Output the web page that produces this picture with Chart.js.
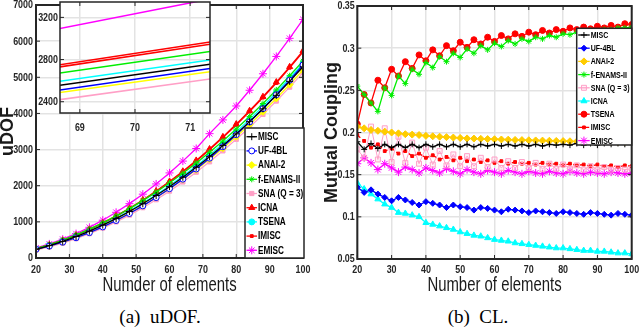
<!DOCTYPE html>
<html>
<head>
<meta charset="utf-8">
<script src="https://cdn.jsdelivr.net/npm/chart.js@4"></script>
<style>
body { margin: 0; background: #fff; }
#wrap { position: relative; width: 640px; height: 328px; overflow: hidden; }
canvas { position: absolute; }
.cap { position: absolute; width: 200px; text-align: center; font-family: 'Liberation Serif', serif; font-size: 19px; color: #000; }
</style>
</head>
<body>
<div id="wrap">
  <canvas id="chartA" width="320" height="300" style="left:0;top:0"></canvas>
  <canvas id="chartB" width="320" height="300" style="left:320px;top:0"></canvas>
  <canvas id="inset" width="215" height="140" style="left:0;top:0"></canvas>
  <div class="cap" style="left:60px;top:306px">(a)&nbsp; uDOF.</div>
  <div class="cap" style="left:378px;top:306px">(b)&nbsp; CL.</div>
</div>
<script>
// number of elements (x values)
const nA = [20, 24, 28, 32, 36, 40, 44, 48, 52, 56, 60, 64, 68, 72, 76, 80, 84, 88, 92, 96, 100]
const nB = [20, 22, 24, 26, 28, 30, 32, 34, 36, 38, 40, 42, 44, 46, 48, 50, 52, 54, 56, 58,
            60, 62, 64, 66, 68, 70, 72, 74, 76, 78, 80, 82, 84, 86, 88, 90, 92, 94, 96, 98, 100]

const seriesNames = ['MISC', 'UF-4BL', 'ANAI-2', 'f-ENAMS-II', 'SNA (Q = 3)', 'ICNA', 'TSENA', 'IMISC', 'EMISC']

// tick labels
const nTicks = [20, 30, 40, 50, 60, 70, 80, 90, 100]
const udofTicks = [0, 1000, 2000, 3000, 4000, 5000, 6000, 7000]
const clTicks = [0.05, 0.1, 0.15, 0.2, 0.25, 0.3, 0.35]
const insetXTicks = [69, 70, 71]
const insetYTicks = [2400, 2800, 3200]

// (a) uDOF
const udofMISC   = [240, 342, 460, 594, 743, 909, 1090, 1287, 1500, 1729, 1973, 2234, 2510, 2802, 3110, 3434, 3773, 4129, 4500, 4887, 5290]
const udofUF4BL  = [240, 329, 436, 560, 702, 861, 1038, 1232, 1443, 1672, 1918, 2182, 2463, 2762, 3078, 3411, 3762, 4130, 4516, 4919, 5340]
const udofANAI2  = [230, 326, 438, 566, 711, 871, 1047, 1240, 1448, 1673, 1913, 2170, 2442, 2731, 3035, 3356, 3693, 4046, 4414, 4799, 5200]
const udofENAMS  = [260, 372, 498, 641, 799, 973, 1162, 1367, 1587, 1823, 2075, 2342, 2625, 2924, 3238, 3567, 3913, 4274, 4650, 5042, 5450]
const udofSNA    = [220, 309, 414, 536, 674, 829, 1000, 1188, 1392, 1613, 1850, 2104, 2374, 2661, 2964, 3284, 3620, 3973, 4342, 4728, 5130]
const udofICNA   = [260, 367, 491, 633, 793, 970, 1164, 1376, 1606, 1853, 2118, 2400, 2700, 3017, 3352, 3705, 4075, 4462, 4867, 5290, 5730]
const udofTSENA  = [250, 352, 469, 604, 754, 921, 1104, 1304, 1520, 1752, 2000, 2265, 2547, 2844, 3158, 3488, 3835, 4198, 4577, 4972, 5384]
const udofIMISC  = [255, 362, 484, 625, 784, 960, 1152, 1363, 1592, 1838, 2101, 2382, 2680, 2996, 3330, 3682, 4051, 4437, 4841, 5263, 5702]
const udofEMISC  = [280, 390, 521, 674, 849, 1046, 1264, 1504, 1766, 2049, 2354, 2681, 3030, 3440, 3820, 4206, 4641, 5098, 5577, 6078, 6600]

// (b) mutual coupling
const clMISC  = [.189, .180, .187, .181, .186, .182, .186, .182, .186, .182,
                 .186, .183, .186, .183, .186, .183, .186, .183, .186, .184,
                 .186, .184, .186, .184, .186, .184, .186, .184, .186, .185,
                 .186, .185, .187, .185, .187, .185, .187, .186, .187, .186, .187]
const clUF4BL = [.135, .129, .132, .127, .123, .119, .123, .120, .117, .114,
                 .118, .116, .114, .111, .114, .112, .111, .108, .111, .110,
                 .108, .106, .109, .108, .107, .105, .107, .106, .105, .104,
                 .106, .105, .104, .103, .105, .104, .103, .102, .104, .103, .102]
const clANAI2 = [.207, .205, .203, .202, .201, .200, .199, .198, .1975, .197,
                 .196, .1955, .195, .1945, .194, .1935, .193, .1928, .1925, .1922,
                 .192, .1917, .1915, .1912, .191, .1908, .1906, .1904, .1902, .190,
                 .1898, .1896, .1894, .1893, .1892, .189, .1889, .1888, .1887, .1886, .1885]
const clENAMS = [.255, .245, .235, .225, .253, .244, .267, .258, .275, .269,
                 .283, .277, .290, .284, .294, .289, .299, .294, .303, .298,
                 .306, .302, .309, .305, .311, .308, .313, .311, .315, .313,
                 .317, .316, .319, .318, .321, .320, .322, .322, .324, .324, .325]
const clSNA   = [.180, .170, .207, .168, .205, .165, .195, .164, .188, .163,
                 .182, .162, .178, .161, .174, .160, .172, .160, .170, .159,
                 .168, .158, .166, .158, .165, .158, .164, .157, .163, .157,
                 .162, .157, .161, .156, .160, .156, .159, .156, .158, .156, .157]
const clICNA  = [.140, .133, .127, .121, .115, .111, .105, .104, .102, .100,
                 .093, .091, .089, .087, .085, .082, .080, .078, .077, .075,
                 .073, .072, .071, .069, .068, .067, .066, .065, .064, .063,
                 .063, .062, .061, .060, .060, .059, .059, .058, .057, .057, .056]
const clTSENA = [.210, .245, .235, .262, .253, .275, .267, .284, .276, .292,
                 .285, .298, .291, .303, .297, .307, .301, .310, .305, .313,
                 .308, .315, .311, .317, .314, .319, .316, .321, .318, .322,
                 .320, .324, .322, .325, .323, .326, .324, .327, .325, .329, .328]
const clIMISC = [.197, .190, .182, .186, .178, .181, .175, .178, .172, .175,
                 .170, .173, .168, .171, .167, .170, .166, .168, .165, .167,
                 .164, .166, .163, .165, .163, .164, .162, .164, .162, .163,
                 .161, .163, .161, .162, .160, .162, .160, .161, .159, .161, .160]
const clEMISC = [.163, .170, .164, .156, .163, .158, .153, .159, .156, .152,
                 .158, .155, .152, .157, .154, .151, .156, .153, .151, .155,
                 .153, .151, .155, .153, .151, .154, .152, .151, .154, .152,
                 .151, .154, .152, .151, .153, .152, .151, .153, .152, .151, .152]

const udofValues = [udofMISC, udofUF4BL, udofANAI2, udofENAMS, udofSNA, udofICNA, udofTSENA, udofIMISC, udofEMISC]
const clValues = [clMISC, clUF4BL, clANAI2, clENAMS, clSNA, clICNA, clTSENA, clIMISC, clEMISC]

// line / marker styles per series
const styleA = [
  {c: '#000000', m: 'cross', r: 3.5},
  {c: '#0000ff', m: 'circle', r: 3, fill: '#ffffff'},
  {c: '#ffff00', m: 'rectRot', r: 3.5},
  {c: '#00ee00', m: 'star', r: 3},
  {c: '#ff9fc6', m: 'rect', r: 3},
  {c: '#ff0000', m: 'triangle', r: 3.5},
  {c: '#00ffff', m: 'circle', r: 3},
  {c: '#ff0000', m: 'rect', r: 2},
  {c: '#ff00ff', m: 'star', r: 4}
]
const styleB = [
  {c: '#000000', m: 'cross', r: 3},
  {c: '#0000ff', m: 'rectRot', r: 3},
  {c: '#ffcc00', m: 'rectRot', r: 3.5},
  {c: '#00ee00', m: 'star', r: 3},
  {c: '#ffa0c8', m: 'rect', r: 3.5, fill: 'rgba(255,160,200,0.15)', w: 1},
  {c: '#00ffff', m: 'triangle', r: 3.5},
  {c: '#ff0000', m: 'circle', r: 3},
  {c: '#ff0000', m: 'rect', r: 2, dash: [4, 3]},
  {c: '#ff00ff', m: 'star', r: 4}
]

// fontes (texto comprimido na horizontal, como no original)
const TICK_FONT = "bold 10.5px 'Liberation Sans', Arial, sans-serif"
const TICK_SX = 0.85
const XTITLE_FONT = "21px 'Liberation Sans', Arial, sans-serif"
const XTITLE_SX = 0.71
const YTITLE_FONT = "bold 18px 'Liberation Sans', Arial, sans-serif"
const gridColor = '#e3e3e3'
const axisColor = '#262626'

function makeSet(name, xs, ys, st, noMarks){
    return {
        label: name,
        data: xs.map((x, i) => ({x: x, y: ys[i]})),
        borderColor: st.c,
        backgroundColor: st.c,
        borderWidth: noMarks ? 1.5 : (st.w || 1.3),
        borderDash: st.dash || [],
        pointStyle: st.m,
        pointRadius: noMarks ? 0 : st.r,
        pointBackgroundColor: st.fill || st.c,
        pointBorderColor: st.c,
        pointBorderWidth: 1,
        tension: 0,
        fill: false
    }
}

function drawTextScaled(ctx, text, x, y, font, align, sx){
    ctx.save()
    ctx.translate(x, y)
    ctx.scale(sx, 1)
    ctx.font = font
    ctx.textAlign = align
    ctx.textBaseline = 'middle'
    ctx.fillText(text, 0, 0)
    ctx.restore()
}

//caixa do eixo com ticks para dentro
const boxPlugin = {
    id: 'axisBox',
    beforeDraw(chart, args, opts){
        if(!opts.fill) return
        const a = chart.chartArea
        chart.ctx.fillStyle = opts.fill
        chart.ctx.fillRect(a.left, a.top, a.right - a.left, a.bottom - a.top)
    },
    afterDatasetsDraw(chart, args, opts){
        const {ctx, chartArea: a, scales} = chart
        ctx.save()
        ctx.strokeStyle = axisColor
        ctx.lineWidth = opts.width || 2
        ctx.strokeRect(a.left, a.top, a.right - a.left, a.bottom - a.top)
        ctx.lineWidth = 1
        ctx.beginPath()
        for(let t of scales.x.ticks){
            const px = scales.x.getPixelForValue(t.value)
            ctx.moveTo(px, a.bottom); ctx.lineTo(px, a.bottom - 4)
            ctx.moveTo(px, a.top); ctx.lineTo(px, a.top + 4)
        }
        for(let t of scales.y.ticks){
            const py = scales.y.getPixelForValue(t.value)
            ctx.moveTo(a.left, py); ctx.lineTo(a.left + 4, py)
            ctx.moveTo(a.right, py); ctx.lineTo(a.right - 4, py)
        }
        ctx.stroke()
        ctx.restore()
    }
}

//rotulos dos ticks e titulos dos eixos
const textPlugin = {
    id: 'axisText',
    afterDraw(chart, args, o){
        const {ctx, chartArea: a, scales} = chart
        ctx.save()
        ctx.fillStyle = axisColor
        for(let t of scales.x.ticks){
            drawTextScaled(ctx, String(t.value), scales.x.getPixelForValue(t.value), a.bottom + o.xGap, TICK_FONT, 'center', TICK_SX)
        }
        for(let t of scales.y.ticks){
            drawTextScaled(ctx, String(t.value), a.left - o.yGap, scales.y.getPixelForValue(t.value) + 0.5, TICK_FONT, 'right', TICK_SX)
        }
        ctx.fillStyle = '#1a1a1a'
        if(o.xTitle){
            drawTextScaled(ctx, o.xTitle, (a.left + a.right) / 2, a.bottom + o.xTitleGap, XTITLE_FONT, 'center', XTITLE_SX)
        }
        if(o.yTitle){
            ctx.save()
            ctx.translate(o.yTitleX, (a.top + a.bottom) / 2)
            ctx.rotate(-Math.PI / 2)
            ctx.font = YTITLE_FONT
            ctx.textAlign = 'center'
            ctx.textBaseline = 'middle'
            ctx.fillText(o.yTitle, 0, 0)
            ctx.restore()
        }
        ctx.restore()
    }
}

//legenda dentro da area do grafico
const legendPlugin = {
    id: 'innerLegend',
    afterDraw(chart, args, o){
        if(!o.width) return
        const ctx = chart.ctx
        const a = chart.chartArea
        const x0 = a.right - o.width + o.dx
        const y0 = o.top != null ? a.top + o.top : a.bottom - o.height
        ctx.save()
        ctx.fillStyle = '#ffffff'
        ctx.fillRect(x0, y0, o.width, o.height)
        ctx.strokeStyle = axisColor
        ctx.lineWidth = 1.5
        ctx.strokeRect(x0, y0, o.width, o.height)
        chart.data.datasets.forEach((ds, i) => {
            const y = y0 + o.first + i * o.step
            const lx0 = x0 + 1.5
            const lx1 = x0 + o.sample
            ctx.strokeStyle = ds.borderColor
            ctx.lineWidth = 1.3
            ctx.setLineDash(ds.borderDash)
            ctx.beginPath(); ctx.moveTo(lx0, y); ctx.lineTo(lx1, y); ctx.stroke()
            ctx.setLineDash([])
            ctx.fillStyle = ds.pointBackgroundColor
            ctx.strokeStyle = ds.pointBorderColor
            ctx.lineWidth = 1
            Chart.helpers.drawPoint(ctx, {pointStyle: ds.pointStyle, radius: ds.pointRadius, borderWidth: 1, rotation: 0}, (lx0 + lx1) / 2, y)
            ctx.fillStyle = '#000000'
            drawTextScaled(ctx, ds.label, lx1 + 1, y + 0.5, o.font, 'left', o.sx)
        })
        ctx.restore()
    }
}

function axisOpts(min, max, tickList, size){
    return {
        type: 'linear', min: min, max: max,
        ticks: {display: false},
        grid: {color: gridColor, lineWidth: 1.5, drawTicks: false},
        border: {display: false},
        title: {display: false},
        afterBuildTicks(s){
            s.ticks = tickList.map(v => ({value: v}))
        },
        afterFit(s){
            if(s.isHorizontal()){ s.height = size } else { s.width = size }
            s.paddingTop = 0; s.paddingBottom = 0; s.paddingLeft = 0; s.paddingRight = 0
        }
    }
}

const baseOptions = {
    responsive: false,
    animation: false,
    events: [],
    plugins: {legend: {display: false}, tooltip: {enabled: false}}
}

// grafico (a)
new Chart(document.querySelector('canvas#chartA'), {
    type: 'line',
    data: {datasets: seriesNames.map((n, i) => makeSet(n, nA, udofValues[i], styleA[i]))},
    options: {
        ...baseOptions,
        layout: {padding: {top: 5, right: 17, left: 0, bottom: 0}},
        scales: {
            x: axisOpts(20, 100, nTicks, 42),
            y: axisOpts(0, 7000, udofTicks, 36)
        },
        plugins: {
            ...baseOptions.plugins,
            axisBox: {width: 2},
            axisText: {xGap: 12, yGap: 3, xTitle: 'Numder of elements', xTitleGap: 27, yTitle: 'uDOF', yTitleX: 8.5},
            innerLegend: {width: 59, height: 130, dx: 1, first: 8.7, step: 14.2, sample: 12, font: "bold 10px 'Liberation Sans', Arial, sans-serif", sx: 0.82}
        }
    },
    plugins: [boxPlugin, textPlugin, legendPlugin]
})

// zoom do grafico (a)
new Chart(document.querySelector('canvas#inset'), {
    type: 'line',
    data: {datasets: seriesNames.map((n, i) => makeSet(n, nA, udofValues[i], styleA[i], true))},
    options: {
        ...baseOptions,
        layout: {padding: {top: 2, right: 5, left: 0, bottom: 0}},
        scales: {
            x: axisOpts(68.64, 71.36, insetXTicks, 27),
            y: axisOpts(2293, 3346, insetYTicks, 60)
        },
        plugins: {
            ...baseOptions.plugins,
            axisBox: {width: 1.5, fill: '#ffffff'},
            axisText: {xGap: 15, yGap: 2},
            innerLegend: {}
        }
    },
    plugins: [boxPlugin, textPlugin, legendPlugin]
})

// grafico (b)
new Chart(document.querySelector('canvas#chartB'), {
    type: 'line',
    data: {datasets: seriesNames.map((n, i) => makeSet(n, nB, clValues[i], styleB[i]))},
    options: {
        ...baseOptions,
        layout: {padding: {top: 6, right: 8.3, left: 0, bottom: 0}},
        scales: {
            x: axisOpts(20, 100, nTicks, 41),
            y: axisOpts(0.05, 0.35, clTicks, 37.3)
        },
        plugins: {
            ...baseOptions.plugins,
            axisBox: {width: 2},
            axisText: {xGap: 11, yGap: 2.5, xTitle: 'Number of elements', xTitleGap: 26, yTitle: 'Mutual Coupling', yTitleX: 12.5},
            innerLegend: {width: 55, height: 116.7, dx: 0, top: 22.3, first: 6.7, step: 13.2, sample: 13, font: "bold 9px 'Liberation Sans', Arial, sans-serif", sx: 0.78}
        }
    },
    plugins: [boxPlugin, textPlugin, legendPlugin]
})
</script>
</body>
</html>
